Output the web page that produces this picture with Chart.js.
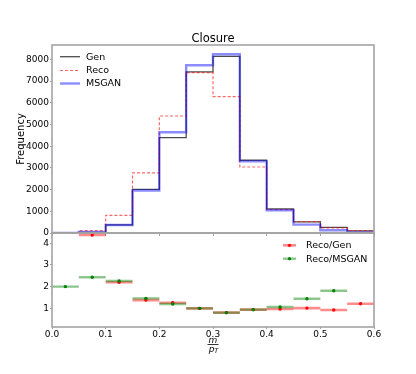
<!DOCTYPE html>
<html><head><meta charset="utf-8">
<script src="https://cdn.jsdelivr.net/npm/chart.js@4"></script>
<style>
html,body{margin:0;padding:0;background:#fff;width:416px;height:374px;overflow:hidden}
canvas{position:absolute;left:0}
#topc{top:0}
#botc{top:225px}
</style></head>
<body>
<canvas id="topc" width="416" height="240"></canvas>
<canvas id="botc" width="416" height="149"></canvas>
<script>
// ---- data ----
const binEdges = [0, 0.05, 0.1, 0.15, 0.2, 0.25, 0.3, 0.35, 0.4, 0.45, 0.5, 0.55, 0.6];
const genCounts   = [0, 25, 370, 2010, 4395, 7420, 8140, 3350, 1110, 510, 255, 95];
const recoCounts  = [4, 110, 815, 2765, 5390, 7390, 6285, 3040, 1080, 520, 235, 115];
const msganCounts = [2, 45, 370, 1960, 4640, 7730, 8235, 3300, 1045, 385, 130, 30];
const ratioRecoGen   = [null, 4.38, 2.2, 1.38, 1.26, 1.0, 0.8, 0.94, 0.97, 1.01, 0.92, 1.21];
const ratioRecoMsgan = [2.0, 2.43, 2.26, 1.46, 1.2, 1.0, 0.8, 0.94, 1.06, 1.44, 1.81, null];
const xTicks = [0, 0.1, 0.2, 0.3, 0.4, 0.5, 0.6];
const yTopTicks = [0, 1000, 2000, 3000, 4000, 5000, 6000, 7000, 8000];
const yRatioTicks = [1, 2, 3, 4];
const titleText = 'Closure';
const yTitle = 'Frequency';

Chart.defaults.font.family = "'DejaVu Sans', sans-serif";
Chart.defaults.color = '#000';

const FRAME = '#a3a3a3';
const FONT9 = {size: 9, family: "'DejaVu Sans', sans-serif"};

function stepPoints(counts) {
  const pts = counts.map((v, i) => ({x: binEdges[i], y: v}));
  pts.push({x: binEdges[binEdges.length - 1], y: 0});
  return pts;
}
function barSegments(ratios) {
  const pts = [];
  ratios.forEach((r, i) => {
    if (r === null) return;
    pts.push({x: binEdges[i], y: r}, {x: binEdges[i + 1], y: r}, {x: binEdges[i + 1], y: null});
  });
  return pts;
}
function centers(ratios) {
  const pts = [];
  ratios.forEach((r, i) => {
    if (r === null) return;
    pts.push({x: (binEdges[i] + binEdges[i + 1]) / 2, y: r});
  });
  return pts;
}

const framePlugin = {
  id: 'frame',
  afterDatasetsDraw(chart) {
    const {ctx, chartArea: a} = chart;
    ctx.save();
    ctx.strokeStyle = FRAME;
    ctx.lineWidth = 1.6;
    ctx.strokeRect(a.left, a.top, a.right - a.left, a.bottom - a.top);
    ctx.restore();
  }
};

const topDecor = {
  id: 'topDecor',
  afterDraw(chart) {
    const {ctx, chartArea: a} = chart;
    ctx.save();
    ctx.fillStyle = '#000';
    ctx.font = "11.5px 'DejaVu Sans', sans-serif";
    ctx.textAlign = 'center';
    ctx.textBaseline = 'middle';
    ctx.fillText(titleText, (a.left + a.right) / 2, 39);
    // legend
    ctx.font = "9.5px 'DejaVu Sans', sans-serif";
    ctx.textAlign = 'left';
    const ys = [56.7, 70.5, 83.5];
    chart.data.datasets.forEach((ds, i) => {
      ctx.save();
      ctx.strokeStyle = ds.borderColor;
      ctx.lineWidth = ds.borderWidth;
      ctx.setLineDash(ds.borderDash || []);
      ctx.beginPath();
      ctx.moveTo(60, ys[i]);
      ctx.lineTo(80, ys[i]);
      ctx.stroke();
      ctx.restore();
      ctx.fillText(ds.label, 86, ys[i] + 0.5);
    });
    ctx.restore();
  }
};

const botDecor = {
  id: 'botDecor',
  afterDraw(chart) {
    const {ctx, chartArea: a} = chart;
    ctx.save();
    // legend
    ctx.font = "9.5px 'DejaVu Sans', sans-serif";
    ctx.textAlign = 'left';
    ctx.textBaseline = 'middle';
    const items = [
      {label: 'Reco/Gen', bar: chart.data.datasets[0], pt: chart.data.datasets[2]},
      {label: 'Reco/MSGAN', bar: chart.data.datasets[1], pt: chart.data.datasets[3]}
    ];
    const ys = [20.3, 33.7];
    items.forEach((it, i) => {
      ctx.strokeStyle = it.bar.borderColor;
      ctx.lineWidth = it.bar.borderWidth;
      ctx.beginPath();
      ctx.moveTo(283, ys[i]);
      ctx.lineTo(296, ys[i]);
      ctx.stroke();
      ctx.fillStyle = it.pt.backgroundColor;
      ctx.beginPath();
      ctx.arc(289.5, ys[i], 1.6, 0, Math.PI * 2);
      ctx.fill();
      ctx.fillStyle = '#000';
      ctx.fillText(it.label, 306, ys[i] + 0.5);
    });
    // x-axis label m / p_T
    const cx = (a.left + a.right) / 2;
    ctx.fillStyle = '#000';
    ctx.textAlign = 'center';
    ctx.font = "italic 9px 'DejaVu Sans', sans-serif";
    ctx.fillText('m', cx, 340.5 - 225);
    ctx.strokeStyle = '#000';
    ctx.lineWidth = 0.8;
    ctx.beginPath();
    ctx.moveTo(cx - 5.5, 344.5 - 225);
    ctx.lineTo(cx + 5.5, 344.5 - 225);
    ctx.stroke();
    ctx.fillText('p', cx - 1.5, 349.5 - 225);
    ctx.font = "italic 6.5px 'DejaVu Sans', sans-serif";
    ctx.fillText('T', cx + 3.2, 351 - 225);
    ctx.restore();
  }
};

new Chart(document.getElementById('topc'), {
  type: 'line',
  data: {
    datasets: [
      {label: 'Gen', data: stepPoints(genCounts), stepped: 'before', borderColor: 'rgba(0,0,0,0.7)', borderWidth: 1.3, pointRadius: 0, fill: false, order: 3},
      {label: 'Reco', data: stepPoints(recoCounts), stepped: 'before', borderColor: 'rgba(255,0,0,0.6)', borderWidth: 1.2, borderDash: [3, 2], pointRadius: 0, fill: false, order: 2},
      {label: 'MSGAN', data: stepPoints(msganCounts), stepped: 'before', borderColor: 'rgba(0,0,255,0.45)', borderWidth: 2.4, pointRadius: 0, fill: false, order: 1}
    ]
  },
  options: {
    responsive: false, animation: false, devicePixelRatio: 1,
    layout: {padding: {top: 45, right: 42, bottom: 4, left: 0}},
    plugins: {legend: {display: false}, tooltip: {enabled: false}, title: {display: false}},
    scales: {
      x: {
        type: 'linear', min: 0, max: 0.6,
        afterBuildTicks: s => { s.ticks = xTicks.map(v => ({value: v})); },
        ticks: {display: false},
        grid: {drawOnChartArea: false, drawTicks: true, tickLength: 3, color: FRAME},
        border: {display: false},
        afterFit: s => { s.height = 3; }
      },
      y: {
        type: 'linear', min: 0, max: 8660,
        afterBuildTicks: s => { s.ticks = yTopTicks.map(v => ({value: v})); },
        ticks: {font: FONT9, padding: 1, color: '#000', callback: v => String(v)},
        grid: {drawOnChartArea: false, drawTicks: true, tickLength: 2, color: FRAME},
        border: {display: false},
        title: {display: true, text: yTitle, font: {size: 10}, padding: {top: 15, bottom: 0}, color: '#000'},
        afterFit: s => { s.width = 52; }
      }
    }
  },
  plugins: [framePlugin, topDecor]
});

new Chart(document.getElementById('botc'), {
  type: 'line',
  data: {
    datasets: [
      {label: 'Reco/Gen', data: barSegments(ratioRecoGen), borderColor: 'rgba(255,0,0,0.45)', borderWidth: 2.6, pointRadius: 0, spanGaps: false, fill: false, order: 4},
      {label: 'Reco/MSGAN', data: barSegments(ratioRecoMsgan), borderColor: 'rgba(0,128,0,0.45)', borderWidth: 2.4, pointRadius: 0, spanGaps: false, fill: false, order: 3},
      {label: 'Reco/Gen points', data: centers(ratioRecoGen), showLine: false, pointRadius: 1.7, pointBackgroundColor: '#ff0000', backgroundColor: '#ff0000', pointBorderWidth: 0, order: 2},
      {label: 'Reco/MSGAN points', data: centers(ratioRecoMsgan), showLine: false, pointRadius: 1.7, pointBackgroundColor: '#008000', backgroundColor: '#008000', pointBorderWidth: 0, order: 1}
    ]
  },
  options: {
    responsive: false, animation: false, devicePixelRatio: 1,
    layout: {padding: {top: 8, right: 42, bottom: 0, left: 0}},
    plugins: {legend: {display: false}, tooltip: {enabled: false}},
    scales: {
      x: {
        type: 'linear', min: 0, max: 0.6,
        afterBuildTicks: s => { s.ticks = xTicks.map(v => ({value: v})); },
        ticks: {font: FONT9, padding: 0, color: '#000', maxRotation: 0, callback: v => Number(v).toFixed(1)},
        grid: {drawOnChartArea: false, drawTicks: true, tickLength: 2, color: FRAME},
        border: {display: false},
        afterFit: s => { s.height = 47; }
      },
      y: {
        type: 'linear', min: 0.14, max: 4.47,
        afterBuildTicks: s => { s.ticks = yRatioTicks.map(v => ({value: v})); },
        ticks: {font: FONT9, padding: 1, color: '#000'},
        grid: {drawOnChartArea: false, drawTicks: true, tickLength: 2, color: FRAME},
        border: {display: false},
        afterFit: s => { s.width = 52; }
      }
    }
  },
  plugins: [framePlugin, botDecor]
});
</script>
</body></html>
